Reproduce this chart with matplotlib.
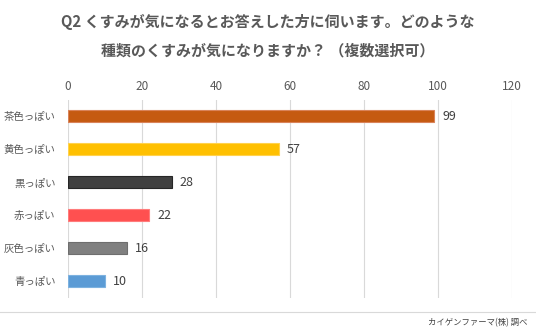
import matplotlib.pyplot as plt
from matplotlib.lines import Line2D

plt.rcParams['font.family'] = ['Noto Sans CJK JP', 'DejaVu Sans']

categories = ['茶色っぽい', '黄色っぽい', '黒っぽい', '赤っぽい', '灰色っぽい', '青っぽい']
values = [99, 57, 28, 22, 16, 10]
colors = ['#C55A11', '#FFC000', '#404040', '#FF5050', '#808080', '#5B9BD5']
edges = ['#D9835A', '#FFD24D', '#262626', '#FF7C7C', '#6E6E6E', '#7DB2E0']
ticks = [0, 20, 40, 60, 80, 100, 120]

fig = plt.figure(figsize=(5.36, 3.34), dpi=100)
ax = fig.add_axes([0.1269, 0.108, 0.8284, 0.593])

ypos = list(range(len(categories)))
ax.barh(ypos, values, height=0.36, color=colors, edgecolor=edges, linewidth=0.8, zorder=3)
for y, v in zip(ypos, values):
    ax.text(v + 2.2, y, str(v), va='center', ha='left', fontsize=9, color='#404040')

ax.set_xlim(0, 120)
ax.set_ylim(len(categories) - 0.5, -0.5)
ax.set_xticks(ticks)
ax.xaxis.tick_top()
ax.tick_params(axis='x', length=0, labelsize=8.5, labelcolor='#595959', pad=5)
ax.set_yticks(ypos)
ax.set_yticklabels(categories)
ax.tick_params(axis='y', length=0, labelsize=7.5, labelcolor='#595959', pad=9)
ax.grid(axis='x', color='#D9D9D9', linewidth=0.8, zorder=0)
for s in ax.spines.values():
    s.set_visible(False)

fig.text(0.5, 0.935, 'Q2 くすみが気になるとお答えした方に伺います。どのような',
         ha='center', va='center', fontsize=10.8, fontweight='bold', color='#595959')
fig.text(0.5, 0.85, '種類のくすみが気になりますか？ （複数選択可）',
         ha='center', va='center', fontsize=10.8, fontweight='bold', color='#595959')

fig.add_artist(Line2D([0, 1], [1 - 312 / 334, 1 - 312 / 334], transform=fig.transFigure,
                      color='#D9D9D9', linewidth=0.8))
fig.text(0.985, 1 - 323 / 334, 'カイゲンファーマ(株) 調べ', ha='right', va='center',
         fontsize=6, color='#404040')

fig.savefig('out.png', dpi=100)
